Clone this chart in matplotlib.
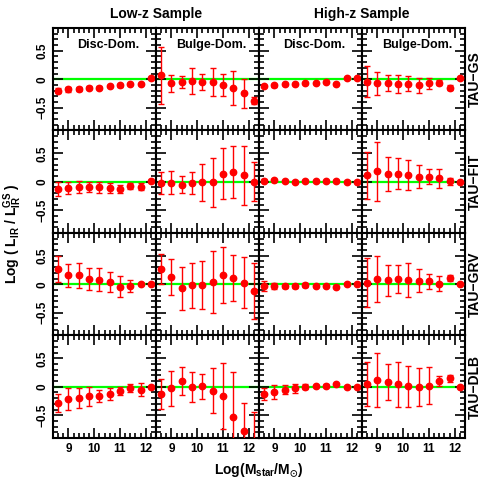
########################## L_IR ratio vs stellar mass ##########################
import numpy as np
import matplotlib
matplotlib.use('Agg')
import matplotlib.pyplot as plt
from matplotlib.ticker import MultipleLocator

plt.rcParams['font.family'] = ['Liberation Sans', 'DejaVu Sans']
plt.rcParams['font.weight'] = 'bold'
plt.rcParams['mathtext.fontset'] = 'custom'
plt.rcParams['mathtext.rm'] = 'Liberation Sans:bold'
plt.rcParams['mathtext.it'] = 'Liberation Sans:bold'
plt.rcParams['mathtext.default'] = 'rm'
plt.rcParams['mathtext.fallback'] = 'stixsans'

############################# Data #############################
logm = [8.6, 9.0, 9.4, 9.8, 10.2, 10.6, 11.0, 11.4, 11.8, 12.2]

samples = ['Low-z Sample', 'High-z Sample']
morph = ['Disc-Dom.', 'Bulge-Dom.']
models = ['TAU-GS', 'TAU-FIT', 'TAU-GRV', 'TAU-DLB']

# TAU-GS
gs_lo_disc = [-0.20, -0.18, -0.17, -0.15, -0.15, -0.12, -0.11, -0.08, -0.09, 0.02]
gs_lo_disc_err = [0.05, 0.04, 0.03, 0.03, 0.03, 0.02, 0.02, 0.02, 0.02, 0.01]
gs_lo_bulge = [0.07, -0.07, -0.05, -0.03, -0.05, -0.05, -0.10, -0.15, -0.25, -0.38]
gs_lo_bulge_err = [0.50, 0.15, 0.10, 0.23, 0.14, 0.25, 0.19, 0.30, 0.26, 0.06]
gs_hi_disc = [-0.12, -0.11, -0.09, -0.08, -0.07, -0.07, -0.05, -0.08, 0.02, 0.02]
gs_hi_disc_err = [0.02, 0.02, 0.02, 0.01, 0.01, 0.01, 0.01, 0.01, 0.01, 0.01]
gs_hi_bulge = [-0.04, -0.07, -0.06, -0.08, -0.08, -0.11, -0.07, -0.06, -0.15, 0.02]
gs_hi_bulge_err = [0.28, 0.20, 0.14, 0.16, 0.13, 0.14, 0.10, 0.05, 0.04, 0.01]

# TAU-FIT
fit_lo_disc = [-0.13, -0.11, -0.09, -0.09, -0.10, -0.11, -0.12, -0.08, -0.09, 0.01]
fit_lo_disc_err = [0.12, 0.11, 0.11, 0.09, 0.09, 0.08, 0.07, 0.05, 0.06, 0.01]
fit_lo_bulge = [-0.02, -0.02, -0.05, -0.02, -0.01, -0.01, 0.14, 0.17, 0.11, 0.00]
fit_lo_bulge_err = [0.19, 0.20, 0.15, 0.19, 0.32, 0.43, 0.45, 0.45, 0.51, 0.34]
fit_hi_disc = [0.02, 0.03, 0.01, 0.00, 0.02, 0.01, 0.01, 0.02, 0.00, 0.00]
fit_hi_disc_err = [0.02, 0.02, 0.01, 0.01, 0.01, 0.01, 0.01, 0.01, 0.01, 0.01]
fit_hi_bulge = [0.11, 0.18, 0.14, 0.14, 0.12, 0.09, 0.09, 0.06, 0.01, 0.00]
fit_hi_bulge_err = [0.41, 0.51, 0.30, 0.27, 0.26, 0.20, 0.13, 0.17, 0.06, 0.01]

# TAU-GRV
grv_lo_disc = [0.27, 0.16, 0.16, 0.09, 0.08, 0.04, -0.04, -0.03, 0.01, 0.01]
grv_lo_disc_err = [0.23, 0.20, 0.22, 0.20, 0.20, 0.18, 0.18, 0.11, 0.02, 0.01]
grv_lo_bulge = [0.27, 0.13, -0.07, -0.02, -0.02, 0.04, 0.16, 0.11, 0.03, -0.12]
grv_lo_bulge_err = [0.26, 0.32, 0.38, 0.39, 0.42, 0.54, 0.49, 0.41, 0.45, 0.49]
grv_hi_disc = [-0.03, -0.03, -0.03, -0.03, -0.01, -0.03, -0.03, -0.05, 0.01, 0.01]
grv_hi_disc_err = [0.09, 0.05, 0.04, 0.03, 0.03, 0.02, 0.02, 0.02, 0.01, 0.01]
grv_hi_bulge = [0.03, 0.09, 0.07, 0.09, 0.08, 0.06, 0.05, 0.01, 0.11, 0.01]
grv_hi_bulge_err = [0.43, 0.41, 0.27, 0.24, 0.30, 0.20, 0.13, 0.13, 0.05, 0.01]

# TAU-DLB
dlb_lo_disc = [-0.29, -0.21, -0.20, -0.17, -0.16, -0.13, -0.07, -0.02, -0.05, 0.00]
dlb_lo_disc_err = [0.16, 0.19, 0.18, 0.16, 0.11, 0.10, 0.07, 0.07, 0.11, 0.01]
dlb_lo_bulge = [-0.13, -0.03, 0.10, 0.00, 0.01, -0.07, -0.16, -0.54, -0.78, -1.00]
dlb_lo_bulge_err = [0.26, 0.31, 0.25, 0.26, 0.22, 0.40, 0.58, 0.80, 0.50, 0.55]
dlb_hi_disc = [-0.13, -0.09, -0.05, -0.03, 0.00, 0.01, 0.02, 0.04, 0.00, 0.00]
dlb_hi_disc_err = [0.11, 0.12, 0.08, 0.08, 0.04, 0.02, 0.02, 0.01, 0.01, 0.01]
dlb_hi_bulge = [0.05, 0.12, 0.08, 0.04, 0.01, 0.00, 0.02, 0.10, 0.15, 0.00]
dlb_hi_bulge_err = [0.38, 0.48, 0.32, 0.39, 0.36, 0.33, 0.33, 0.08, 0.06, 0.01]

grid = [
    [(gs_lo_disc, gs_lo_disc_err), (gs_lo_bulge, gs_lo_bulge_err),
     (gs_hi_disc, gs_hi_disc_err), (gs_hi_bulge, gs_hi_bulge_err)],
    [(fit_lo_disc, fit_lo_disc_err), (fit_lo_bulge, fit_lo_bulge_err),
     (fit_hi_disc, fit_hi_disc_err), (fit_hi_bulge, fit_hi_bulge_err)],
    [(grv_lo_disc, grv_lo_disc_err), (grv_lo_bulge, grv_lo_bulge_err),
     (grv_hi_disc, grv_hi_disc_err), (grv_hi_bulge, grv_hi_bulge_err)],
    [(dlb_lo_disc, dlb_lo_disc_err), (dlb_lo_bulge, dlb_lo_bulge_err),
     (dlb_hi_disc, dlb_hi_disc_err), (dlb_hi_bulge, dlb_hi_bulge_err)],
]

################################### Plotting ###################################
fig, axes = plt.subplots(4, 4, figsize=(4.91, 4.91), dpi=100)
fig.subplots_adjust(left=0.108, right=0.947, bottom=0.108, top=0.943,
                    wspace=0, hspace=0)

for i in range(4):
    for j in range(4):
        ax = axes[i, j]
        y, err = grid[i][j]
        ax.axhline(0, color='#00ff00', lw=1.6, zorder=1)
        ax.errorbar(logm, y, yerr=err, fmt='o', color='#ff0000', ms=4.6,
                    elinewidth=1.0, capsize=2.5, capthick=1.0, zorder=3)
        ax.set_xlim(8.4, 12.4)
        ax.set_ylim(-0.9, 0.9)
        ax.xaxis.set_major_locator(MultipleLocator(1))
        ax.xaxis.set_minor_locator(MultipleLocator(0.2))
        ax.yaxis.set_major_locator(MultipleLocator(0.5))
        ax.yaxis.set_minor_locator(MultipleLocator(0.1))
        ax.tick_params(which='both', direction='in', top=True, right=True,
                       width=1.2, labelsize=8.5)
        ax.tick_params(which='major', length=7)
        ax.tick_params(which='minor', length=3.5)
        for s in ax.spines.values():
            s.set_linewidth(1.5)
        if i < 3:
            ax.set_xticklabels([])
        else:
            ax.set_xticks([9, 10, 11, 12])
            ax.set_xticklabels(['9', '10', '11', '12'])
        if j > 0:
            ax.set_yticklabels([])
        else:
            ax.set_yticks([-0.5, 0, 0.5])
            ax.set_yticklabels(['\u22120.5', '0', '0.5'], rotation=90, va='center')
        if i == 0:
            ax.text(0.54, 0.83, morph[j % 2], transform=ax.transAxes,
                    ha='center', va='center', fontsize=9, fontweight='bold')
        if j == 3:
            ax.text(1.095, 0.5, models[i].replace('-', '\u2212'), transform=ax.transAxes,
                    rotation=90, ha='center', va='center', fontsize=10,
                    fontweight='bold')

fig.text(0.108 + 0.839 * 0.25 + 0.0, 0.972, samples[0], ha='center',
         va='center', fontsize=10, fontweight='bold')
fig.text(0.108 + 0.839 * 0.75, 0.972, samples[1], ha='center', va='center',
         fontsize=10, fontweight='bold')
fig.text(0.108 + 0.839 * 0.5, 0.043, r'Log(M$_{\rm star}$/M$_{\odot}$)',
         ha='center', va='center', fontsize=10, fontweight='bold')
fig.text(0.026, 0.525, r'Log ( L$_{\rm IR}$ / L$_{\rm IR}^{\rm GS}$ )',
         rotation=90, ha='center', va='center', fontsize=10, fontweight='bold')

fig.savefig('out.png', dpi=100)
